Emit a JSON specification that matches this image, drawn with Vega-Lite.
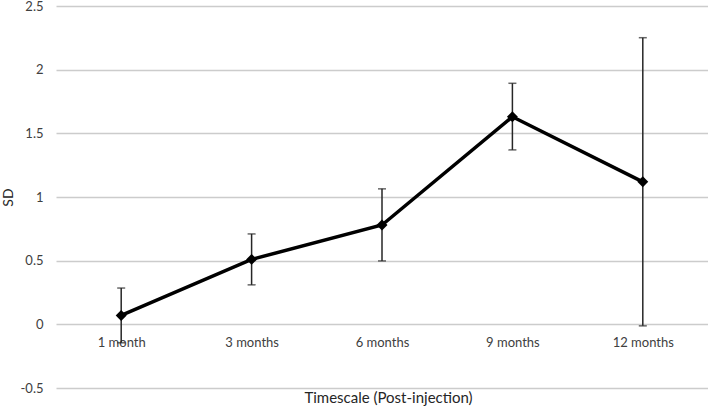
{
  "$schema": "https://vega.github.io/schema/vega-lite/v6.json",
  "width": 652,
  "height": 382,
  "autosize": {"type": "none"},
  "padding": {"left": 56, "top": 6, "right": 0, "bottom": 22},
  "background": "white",
  "config": {
    "view": {"stroke": null},
    "font": "Lato",
    "axis": {"labelFont": "Lato", "titleFont": "Lato", "titleFontWeight": "normal"}
  },
  "data": {
    "values": [
      {"time": "1 month", "sd": 0.07, "lo": -0.145, "hi": 0.285},
      {"time": "3 months", "sd": 0.51, "lo": 0.31, "hi": 0.71},
      {"time": "6 months", "sd": 0.78, "lo": 0.498, "hi": 1.064},
      {"time": "9 months", "sd": 1.63, "lo": 1.37, "hi": 1.893},
      {"time": "12 months", "sd": 1.119, "lo": -0.012, "hi": 2.251}
    ]
  },
  "encoding": {
    "x": {
      "field": "time",
      "type": "nominal",
      "sort": null,
      "scale": {"type": "point", "padding": 0.5},
      "axis": {
        "title": "Timescale (Post-injection)",
        "labelAngle": 0,
        "domain": false,
        "ticks": false,
        "grid": false,
        "offset": -64,
        "labelPadding": 12,
        "labelFontSize": 13,
        "labelColor": "#404040",
        "titleFontSize": 15,
        "titleColor": "#262626",
        "titleY": 73,
        "titleX": 332,
        "titleBaseline": "middle"
      }
    }
  },
  "layer": [
    {
      "mark": {"type": "errorbar", "ticks": {"size": 8, "thickness": 1.5, "color": "#262626"}, "rule": {"strokeWidth": 1.5, "color": "#262626"}},
      "encoding": {
        "y": {
          "field": "lo",
          "type": "quantitative",
          "scale": {"domain": [-0.5, 2.5], "nice": false, "zero": false},
          "axis": {
            "title": "SD",
            "values": [-0.5, 0, 0.5, 1, 1.5, 2, 2.5],
            "labelExpr": "datum.value + ''",
            "domain": false,
            "ticks": false,
            "gridColor": "#cccccc",
            "gridWidth": 1.3,
            "labelFontSize": 13,
            "labelColor": "#404040",
            "labelPadding": 13,
            "titleFontSize": 14,
            "titleColor": "#262626",
            "titleX": -48,
            "titleBaseline": "middle"
          }
        },
        "y2": {"field": "hi"}
      }
    },
    {
      "mark": {"type": "line", "color": "black", "strokeWidth": 3.5},
      "encoding": {"y": {"field": "sd", "type": "quantitative"}}
    },
    {
      "mark": {"type": "point", "shape": "diamond", "filled": true, "color": "black", "size": 120, "opacity": 1},
      "encoding": {"y": {"field": "sd", "type": "quantitative"}}
    }
  ]
}
